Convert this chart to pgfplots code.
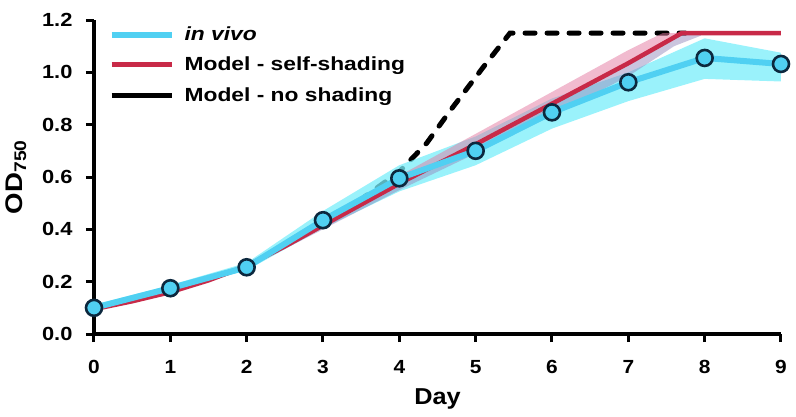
\documentclass[border=0pt]{standalone}
\usepackage{pgfplots}
\pgfplotsset{compat=1.18}
\usepackage{fontspec}
\setmainfont{Liberation Sans}
\newfontfamily\widefont{Liberation Sans}[FakeStretch=1.2]
\newfontfamily\ywide{Liberation Sans}[FakeStretch=1.15]
\newfontfamily\lblwide{Liberation Sans}[FakeStretch=1.1]

\definecolor{vivo}{RGB}{80,208,242}
\definecolor{vivoband}{RGB}{120,238,250}
\definecolor{edge}{RGB}{12,40,62}
\definecolor{modelred}{RGB}{200,42,72}
\definecolor{pinkband}{RGB}{228,120,160}
\definecolor{greyband}{RGB}{150,140,190}

\begin{document}
\begin{tikzpicture}
\begin{axis}[
  scale only axis, width=687pt, height=314pt,
  xmin=0, xmax=9, ymin=0, ymax=1.2,
  enlargelimits=false, clip=false,
  axis lines=left, axis line style={-, line width=3.2pt, black},
  tick align=outside, major tick length=8pt,
  tick style={line width=3pt, black},
  xtick={0,...,9}, ytick={0,0.2,...,1.2},
  /pgf/number format/assume math mode=true,
  xticklabel style={yshift=-15pt, font=\lblwide\fontsize{19}{21}\selectfont\bfseries},
  yticklabel style={xshift=-10pt, font=\ywide\fontsize{19}{21}\selectfont\bfseries,
    /pgf/number format/.cd, fixed, fixed zerofill, precision=1},
  xlabel={Day}, ylabel={OD\textsubscript{750}},
  xlabel style={yshift=-8pt, font=\lblwide\fontsize{23}{26}\selectfont\bfseries},
  ylabel style={yshift=9pt, font=\ywide\fontsize{24}{26}\selectfont\bfseries},
  legend cell align=left,
  legend style={draw=none, fill=none, inner sep=0pt, row sep=11pt,
    at={(axis description cs:0.021,0.985)}, anchor=north west,
    font=\widefont\fontsize{19}{21}\selectfont\bfseries},
  legend image code/.code={\draw[#1] (0pt,0pt) -- (60pt,0pt); \path (68pt,0pt);},
]
% no shading model (dashed)
\addplot[forget plot, black, line width=5pt, line cap=round, dash pattern=on 10pt off 12pt]
  coordinates {(3.0,0.415) (3.5,0.515) (4.0,0.62) (4.36,0.73) (4.67,0.855) (5.1,1.02) (5.45,1.15) (7.75,1.15)};
% in vivo band
\addplot[forget plot, draw=none, fill=vivoband, fill opacity=0.75] coordinates {
  (0,0.112) (1,0.187) (2,0.272) (3,0.47) (4,0.645) (5,0.755) (6,0.90) (7,1.00) (8,1.13) (9,1.075)
  (9,0.965) (8,0.975) (7,0.89) (6,0.785) (5,0.645) (4,0.545) (3,0.405) (2,0.243) (1,0.163) (0,0.09)} -- cycle;
% self-shading band, upper half
\addplot[forget plot, draw=none, fill=pinkband, fill opacity=0.5] coordinates {
  (0,0.10) (1,0.168) (2,0.27) (3,0.435) (4,0.605) (5,0.765) (6,0.925) (7,1.085) (7.45,1.15) (7.95,1.15)
  (7.7,1.15) (7,1.035) (6,0.88) (5,0.725) (4,0.575) (3,0.415) (2,0.26) (1,0.16) (0,0.095)} -- cycle;
% self-shading band, lower half
\addplot[forget plot, draw=none, fill=greyband, fill opacity=0.5] coordinates {
  (0,0.095) (1,0.16) (2,0.26) (3,0.415) (4,0.575) (5,0.725) (6,0.88) (7,1.035) (7.7,1.15) (7.95,1.15)
  (7.95,1.14) (7.6,1.10) (7,0.985) (6,0.835) (5,0.69) (4,0.55) (3,0.40) (2,0.25) (1,0.152) (0,0.09)} -- cycle;
% self-shading model
\addplot[forget plot, modelred, line width=4.5pt]
  coordinates {(0,0.095) (0.5,0.125) (1,0.16) (1.5,0.205) (2,0.26) (2.5,0.335) (3,0.415) (3.5,0.495) (4,0.575) (5,0.725) (6,0.88) (7,1.035) (7.7,1.15) (9,1.15)};
% in vivo
\addplot[forget plot, vivo, line width=6pt, mark=*, mark size=8pt,
  mark options={fill=vivo, draw=edge, line width=2.6pt}]
  coordinates {(0,0.10) (1,0.175) (2,0.255) (3,0.435) (4,0.595) (5,0.70) (6,0.847) (7,0.962) (8,1.055) (9,1.032)};
\addlegendimage{vivo, line width=6pt}
\addlegendentry{\textit{in vivo}}
\addlegendimage{modelred, line width=5pt}
\addlegendentry{Model - self-shading}
\addlegendimage{black, line width=5pt}
\addlegendentry{Model - no shading}
\end{axis}
\pgfresetboundingbox
\path (-94pt,-82pt) rectangle (702pt,334pt);
\end{tikzpicture}
\end{document}
